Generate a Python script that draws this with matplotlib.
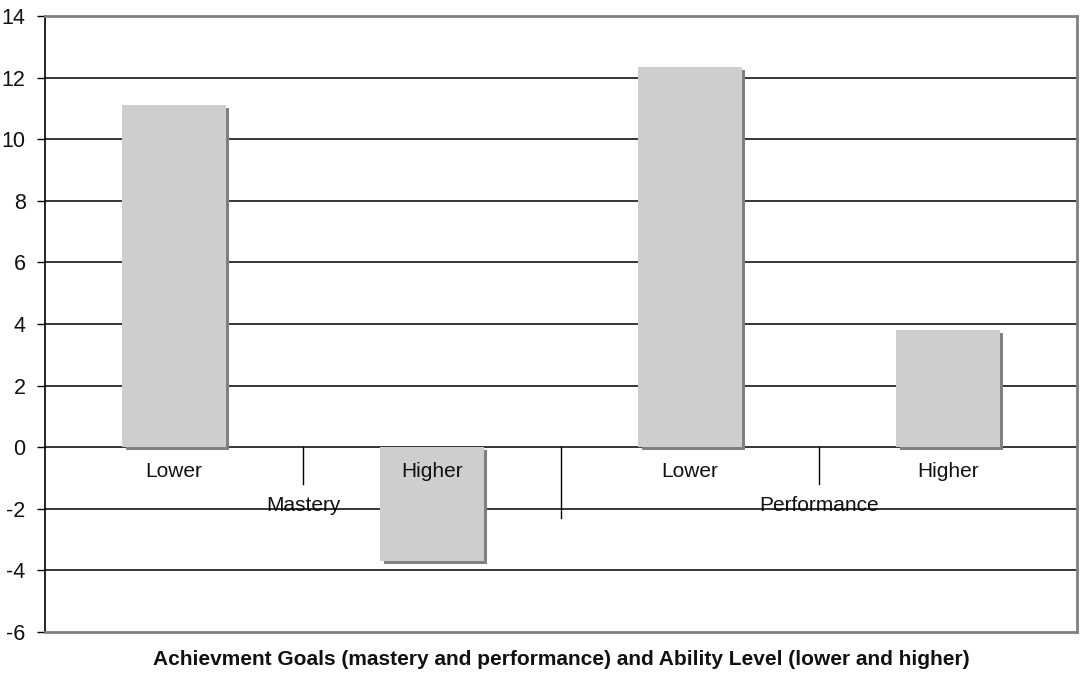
import matplotlib.pyplot as plt
import matplotlib.patheffects as pe
import numpy as np

plt.rcParams['font.family'] = ['Liberation Sans', 'DejaVu Sans']

# mean scores by achievement goal and ability level
groups = ['Mastery', 'Performance']
levels = ['Lower', 'Higher', 'Lower', 'Higher']
values = [11.1, -3.7, 12.35, 3.8]

yticks = np.arange(-6, 15, 2)

fig = plt.figure(figsize=(10.8, 6.74), dpi=100)
ax = fig.add_axes([0.0417, 0.0623, 0.9555, 0.914])

x = np.arange(len(values))
shadow = [pe.SimplePatchShadow(offset=(2.3, -2.3), shadow_rgbFace='#808080', alpha=1.0), pe.Normal()]
bars = ax.bar(x, values, width=0.4, color='#cdcfcf', zorder=2)
for b in bars:
    b.set_path_effects(shadow)

# horizontal grid lines
for yv in yticks[1:-1]:
    ax.axhline(yv, color='black', lw=1.1, zorder=1)

ax.set_xlim(-0.5, 3.5)
ax.set_ylim(-6, 14)
ax.set_yticks(yticks)
ax.set_yticklabels([str(v) for v in yticks], fontsize=15.5, color='#111111')
ax.tick_params(axis='y', length=6, width=1, pad=8)
ax.set_xticks([])

for side in ['top', 'right', 'bottom']:
    ax.spines[side].set_color('#808080')
    ax.spines[side].set_linewidth(2)
ax.spines['left'].set_color('black')
ax.spines['left'].set_linewidth(1.2)

# category labels and dividers below the zero line
for xi, lab in zip(x, levels):
    ax.text(xi, -0.8, lab, ha='center', va='center', fontsize=15, color='#111111', zorder=3)
for xd in [0.5, 2.5]:
    ax.plot([xd, xd], [0, -1.2], color='black', lw=1, zorder=1)
ax.plot([1.5, 1.5], [0, -2.3], color='black', lw=1, zorder=1)
for gi, g in enumerate(groups):
    ax.text(0.5 + 2 * gi, -1.88, g, ha='center', va='center', fontsize=15, color='#111111', zorder=0.5)

fig.text(0.5195, 0.022, 'Achievment Goals (mastery and performance) and Ability Level (lower and higher)',
         ha='center', va='center', fontsize=15, fontweight='bold', color='#111111')

fig.savefig('out.png', dpi=100)
